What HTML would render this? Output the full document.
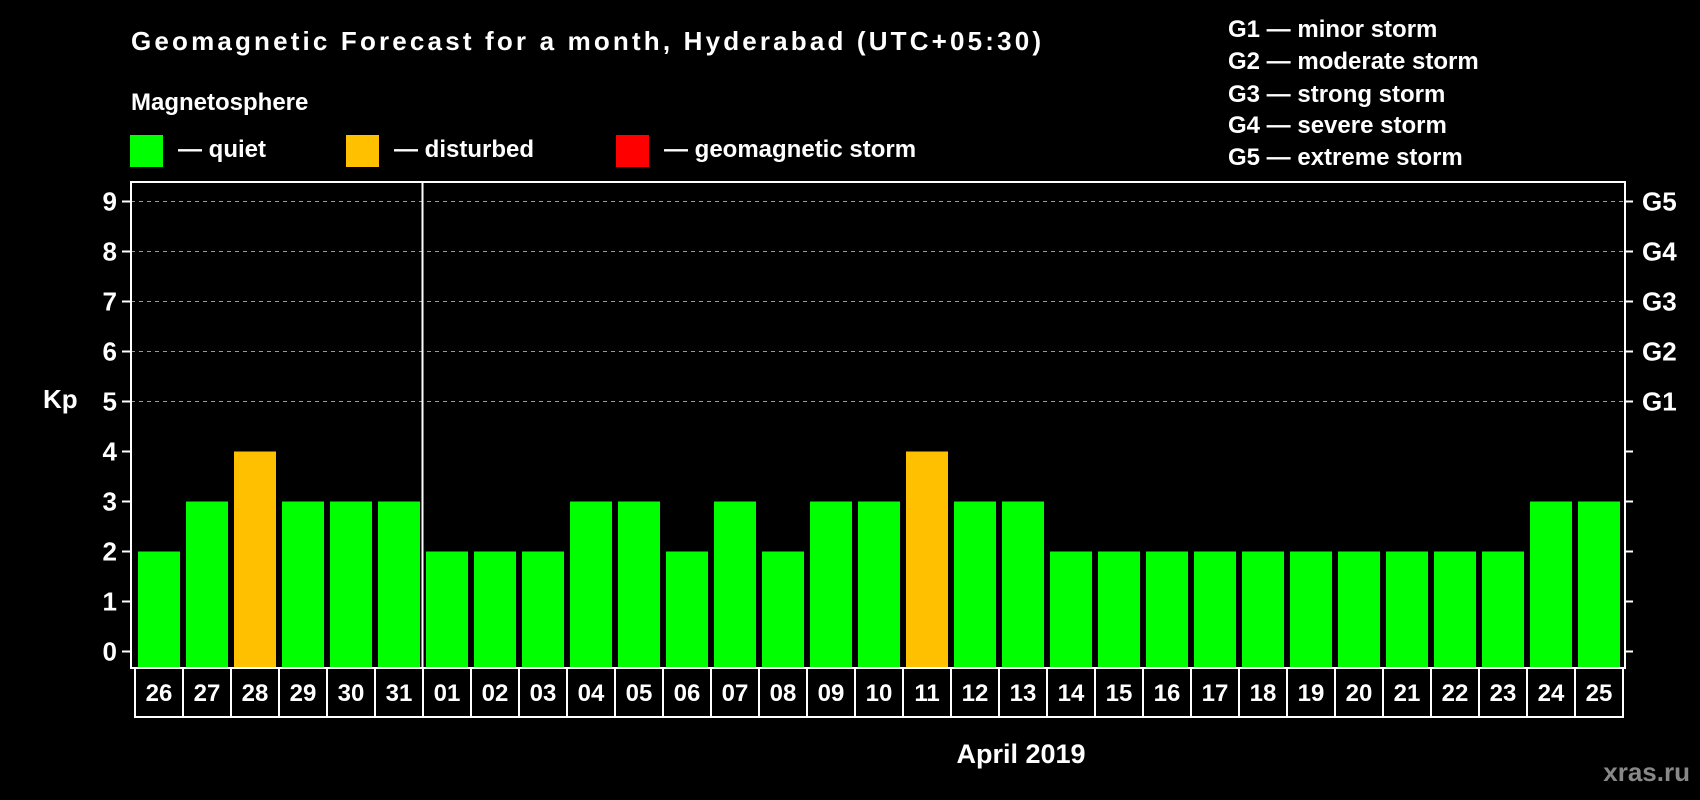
<!DOCTYPE html>
<html><head><meta charset="utf-8"><style>
html,body{margin:0;padding:0;background:#000;}
svg{display:block;font-family:"Liberation Sans",Arial,sans-serif;font-weight:bold;}
</style></head><body>
<svg id="chart" width="1700" height="800" viewBox="0 0 1700 800">
<rect x="0" y="0" width="1700" height="800" fill="#000"/>
<text x="131" y="50" font-size="26" fill="#fff" textLength="910">Geomagnetic Forecast for a month, Hyderabad (UTC+05:30)</text>
<text x="131" y="110" font-size="24" fill="#fff">Magnetosphere</text>
<g><rect x="130" y="135" width="33" height="32" fill="#00ff00"/><text x="178" y="157" font-size="24" fill="#fff">— quiet</text></g>
<g><rect x="346" y="135" width="33" height="32" fill="#ffc000"/><text x="394" y="157" font-size="24" fill="#fff">— disturbed</text></g>
<g><rect x="616" y="135" width="33" height="32" fill="#ff0000"/><text x="664" y="157" font-size="24" fill="#fff">— geomagnetic storm</text></g>
<g font-size="24" fill="#fff">
<text x="1228" y="37">G1 — minor storm</text>
<text x="1228" y="69">G2 — moderate storm</text>
<text x="1228" y="102">G3 — strong storm</text>
<text x="1228" y="133">G4 — severe storm</text>
<text x="1228" y="165">G5 — extreme storm</text>
</g>
<text x="43" y="408" font-size="26" fill="#fff">Kp</text>
<text x="1021" y="763" font-size="27" fill="#fff" text-anchor="middle">April 2019</text>
<text x="1690" y="781" font-size="26" fill="#888" text-anchor="end">xras.ru</text>
<g id="grid"></g>
<g id="bars"></g>
<g id="axes"></g>
<g id="dates"></g>
</svg>
<script>
const days = ["26","27","28","29","30","31","01","02","03","04","05","06","07","08","09","10","11","12","13","14","15","16","17","18","19","20","21","22","23","24","25"];
const kpValues = [2,3,4,3,3,3,2,2,2,3,3,2,3,2,3,3,4,3,3,2,2,2,2,2,2,2,2,2,2,3,3];
const yTicks = [0,1,2,3,4,5,6,7,8,9];
const gLabels = ["G1","G2","G3","G4","G5"];
const gLevels = [5,6,7,8,9];
const NS = "http://www.w3.org/2000/svg";
const plotL = 131, plotR = 1625, plotT = 182, plotB = 668;
const y0 = 651.5, unit = 50;
const barX0 = 138, pitch = 48, barW = 42;
function yScale(v){ return y0 - v*unit; }
function xScale(i){ return barX0 + i*pitch; }
function colorFor(v){ return v >= 5 ? "#ff0000" : (v >= 4 ? "#ffc000" : "#00ff00"); }
function mk(tag, attrs, parent){ const e=document.createElementNS(NS,tag); for(const k in attrs) e.setAttribute(k,attrs[k]); parent.appendChild(e); return e; }
const grid=document.getElementById("grid"), bars=document.getElementById("bars"), axes=document.getElementById("axes"), dates=document.getElementById("dates");
gLevels.forEach(function(v){
  const l = mk("line",{x1:plotL,x2:plotR,y1:yScale(v),y2:yScale(v),stroke:"#999","stroke-width":1,"stroke-dasharray":"4,4"},grid);
  
  
});
kpValues.forEach(function(v,i){
  const r = mk("rect",{x:xScale(i),y:yScale(v),width:barW,height:plotB-1-yScale(v),fill:colorFor(v)},bars);
  
  
});
const frame = mk("rect",{x:plotL,y:plotT,width:plotR-plotL,height:plotB-plotT,fill:"none",stroke:"#fff","stroke-width":2},axes);


const idx = days.indexOf("01");
const div = mk("line",{x1:xScale(idx)-3.5,x2:xScale(idx)-3.5,y1:plotT,y2:plotB,stroke:"#fff","stroke-width":2},axes);


yTicks.forEach(function(v){
  const t1 = mk("line",{x1:plotL-9,x2:plotL,y1:yScale(v),y2:yScale(v),stroke:"#fff","stroke-width":2},axes);
  
  
  const t2 = mk("line",{x1:plotR,x2:plotR+8,y1:yScale(v),y2:yScale(v),stroke:"#fff","stroke-width":2},axes);
  
  
  const tx = mk("text",{x:117,y:yScale(v)+9,"font-size":26,fill:"#fff","text-anchor":"end"},axes);
  tx.textContent = String(v);
  
  
});
gLabels.forEach(function(g,i){
  const tx = mk("text",{x:1642,y:yScale(gLevels[i])+9,"font-size":26,fill:"#fff"},axes);
  tx.textContent = g;
  
  
});
days.forEach(function(d,i){
  const bx = xScale(i)-3;
  const r = mk("rect",{x:bx,y:plotB,width:pitch,height:717-plotB,fill:"none",stroke:"#fff","stroke-width":2},dates);
  
  
  const t = mk("text",{x:bx+pitch/2,y:701,"font-size":24,fill:"#fff","text-anchor":"middle"},dates);
  t.textContent = d;
  
  
});
</script>
</body></html>
